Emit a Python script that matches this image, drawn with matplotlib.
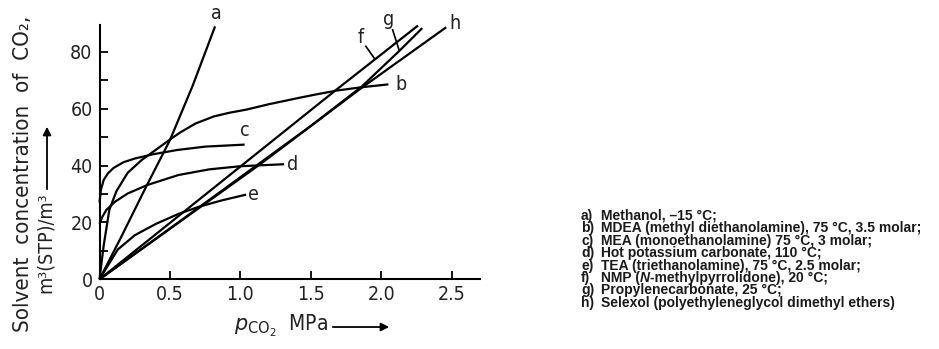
import matplotlib
matplotlib.use("Agg")
import matplotlib.pyplot as plt
import matplotlib.patches as mpatches

plt.rcParams['mathtext.fontset'] = 'custom'
plt.rcParams['mathtext.rm'] = 'DejaVu Sans'
plt.rcParams['mathtext.it'] = 'DejaVu Sans:italic'
plt.rcParams['mathtext.bf'] = 'DejaVu Sans:bold'

# ---- data ----
a_x = [0, 0.15, 0.33, 0.5, 0.66, 0.82]
a_y = [0, 14.5, 32.5, 49, 68, 89]

b_x = [0, 0.03, 0.07, 0.12, 0.2, 0.3, 0.42, 0.5, 0.57, 0.68, 0.81, 0.92, 1.04, 1.2, 1.42, 1.52, 1.68, 1.86, 2.05]
b_y = [0, 12, 24.5, 31, 37.5, 42, 46.3, 49.2, 51.6, 54.8, 57.3, 58.6, 59.7, 61.6, 63.9, 64.9, 66.4, 67.6, 68.6]

c_x = [0, 0.01, 0.03, 0.06, 0.1, 0.17, 0.25, 0.38, 0.55, 0.75, 1.03]
c_y = [27, 31.5, 35, 37.3, 39.2, 41.2, 42.5, 44, 45.5, 46.7, 47.4]

d_x = [0, 0.02, 0.05, 0.11, 0.2, 0.34, 0.56, 0.78, 1.0, 1.31]
d_y = [19.5, 22, 24.5, 27.3, 30.2, 33.2, 36.7, 38.7, 39.8, 40.5]

e_x = [0, 0.13, 0.25, 0.4, 0.56, 0.71, 0.87, 1.04]
e_y = [0, 10.5, 15.5, 19.5, 23, 25.6, 27.8, 29.8]

f_x = [0, 1.0, 1.68, 2.26]
f_y = [0, 39.7, 66.7, 89.3]

g_x = [0, 0.6, 1.14, 1.5, 1.86, 2.13, 2.29]
g_y = [0, 21.5, 41, 54, 67.8, 80.5, 88.4]

h_x = [0, 1.14, 1.86, 2.46]
h_y = [0, 40.5, 67.4, 88.7]

x_ticks = [0, 0.5, 1.0, 1.5, 2.0, 2.5]
x_ticklabels = ["0", "0.5", "1.0", "1.5", "2.0", "2.5"]
y_ticks = [0, 20, 40, 60, 80]
y_minor = [10, 30, 50, 70]

curve_labels = ["a", "b", "c", "d", "e", "f", "g", "h"]
label_pos = [(0.83, 93.5), (2.14, 68.4), (1.03, 52.5), (1.37, 40.3),
             (1.09, 29.8), (1.85, 85.0), (2.05, 91.5), (2.52, 90.2)]

legend_keys = ["a)", "b)", "c)", "d)", "e)", "f)", "g)", "h)"]
# each description is a list of (text, italic) pieces
legend_texts = [
    [("Methanol, \u201315 \u00b0C;", False)],
    [("MDEA (methyl diethanolamine), 75 \u00b0C, 3.5 molar;", False)],
    [("MEA (monoethanolamine) 75 \u00b0C, 3 molar;", False)],
    [("Hot potassium carbonate, 110 \u00b0C;", False)],
    [("TEA (triethanolamine), 75 \u00b0C, 2.5 molar;", False)],
    [("NMP (", False), ("N", True), ("-methylpyrrolidone), 20 \u00b0C;", False)],
    [("Propylenecarbonate, 25 \u00b0C;", False)],
    [("Selexol (polyethyleneglycol dimethyl ethers)", False)],
]

# ---- figure ----
W, H = 939, 349
fig = plt.figure(figsize=(W / 100, H / 100), dpi=100)
ax_left, ax_right, ax_bottom, ax_top = 99.5, 480, 279.3, 25
ax = fig.add_axes([ax_left / W, 1 - ax_bottom / H, (ax_right - ax_left) / W, (ax_bottom - ax_top) / H])

cf = dict(family="DejaVu Sans", stretch="condensed", color="#222222")

lw = 1.6
for xs, ys in [(a_x, a_y), (b_x, b_y), (c_x, c_y), (d_x, d_y), (e_x, e_y),
               (f_x, f_y), (g_x, g_y), (h_x, h_y)]:
    ax.plot(xs, ys, color="black", lw=lw, solid_capstyle="butt", clip_on=False)

ax.set_xlim(0, 2.7)
ax.set_ylim(0, 89.5)
for s in ["top", "right"]:
    ax.spines[s].set_visible(False)
for s in ["left", "bottom"]:
    ax.spines[s].set_linewidth(1.5)

ax.set_xticks(x_ticks)
ax.set_xticklabels(x_ticklabels)
ax.set_yticks(y_ticks)
ax.set_yticks(y_minor, minor=True)
ax.tick_params(axis="both", which="both", direction="in", length=6, width=1.3, color="black")
ax.tick_params(axis="x", pad=4)
ax.tick_params(axis="y", pad=5)
for t in ax.get_xticklabels() + ax.get_yticklabels():
    t.set_family("DejaVu Sans")
    t.set_stretch("condensed")
    t.set_fontsize(14)
    t.set_color("#222222")

for lab, (lx, ly) in zip(curve_labels, label_pos):
    ax.text(lx, ly, lab, fontsize=14, ha="center", va="center", clip_on=False, **cf)

ax.plot([1.89, 1.95], [82.0, 77.8], color="black", lw=1.2, clip_on=False)
ax.plot([2.08, 2.125], [87.8, 80.8], color="black", lw=1.2, clip_on=False)

# y label (two rotated lines)
fig.text(23 / W, 1 - 174 / H, "Solvent  concentration  of  CO\u2082,", rotation=90,
         ha="center", va="center", fontsize=16, **cf)
fig.text(45 / W, 1 - 243 / H, "m\u00b3(STP)/m\u00b3", rotation=90,
         ha="center", va="center", fontsize=14, **cf)
fig.add_artist(mpatches.FancyArrowPatch(
    (47 / W, 1 - 192 / H), (47 / W, 1 - 124 / H), transform=fig.transFigure,
    arrowstyle="-|>", mutation_scale=12, lw=1.3, color="black"))

# x label
fig.text(281 / W, 1 - 326 / H, "$\\it{p}_{\\rm CO_2}$  MPa", ha="center", va="center",
         fontsize=15, **cf)
fig.add_artist(mpatches.FancyArrowPatch(
    (330 / W, 1 - 327 / H), (392 / W, 1 - 327 / H), transform=fig.transFigure,
    arrowstyle="-|>", mutation_scale=12, lw=1.3, color="black"))

# legend text block (one text per line / piece)
renderer = fig.canvas.get_renderer()
lf = dict(fontsize=10, fontweight="bold", family="Liberation Sans",
          color="#1a1a1a", va="baseline", ha="left")
base0, pitch = 220.0, 12.4
key_x, desc_x = 581, 601
for i, (k, pieces) in enumerate(zip(legend_keys, legend_texts)):
    yy = 1 - (base0 + i * pitch) / H
    fig.text(key_x / W, yy, k, **lf)
    xpos = desc_x
    for txt, ital in pieces:
        t = fig.text(xpos / W, yy, txt, fontstyle="italic" if ital else "normal", **lf)
        bb = t.get_window_extent(renderer=renderer)
        xpos = bb.x1 + (0.5 if ital else 0)

fig.savefig("out.png", dpi=100)
